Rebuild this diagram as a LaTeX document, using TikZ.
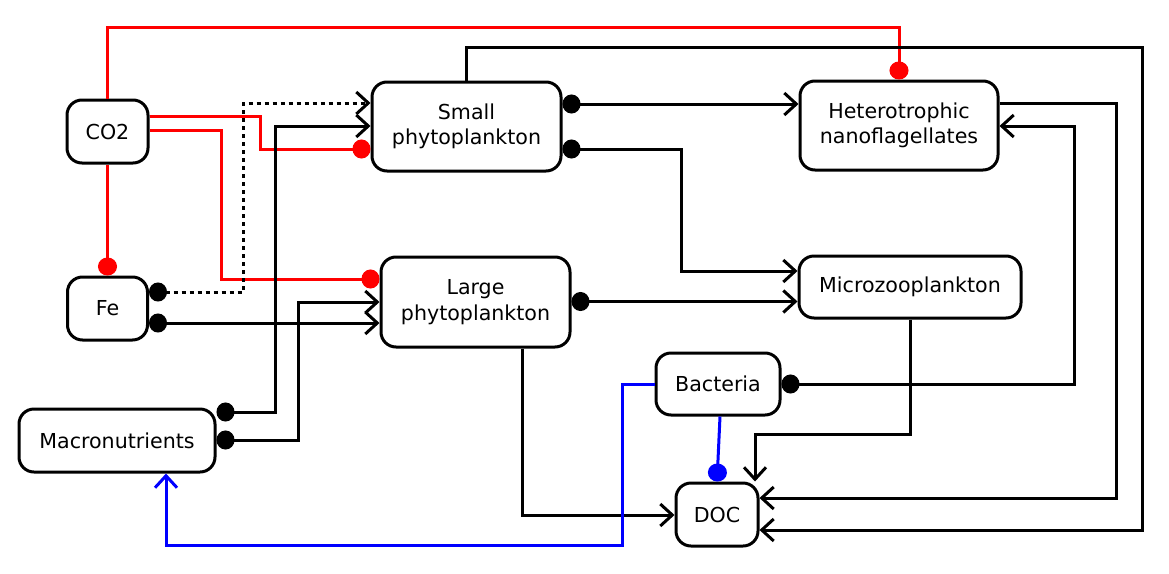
\documentclass[tikz,border=0pt]{standalone}
\usepackage{fontspec}
\setmainfont{DejaVu Sans}
\usetikzlibrary{arrows.meta}
\begin{document}
\begin{tikzpicture}[x=1pt,y=-1pt,
  box/.style={draw, line width=3pt, rounded corners=15pt, align=center, inner sep=0pt,
    font=\fontsize{20.6}{25.5}\selectfont},
  link/.style={line width=3pt, line join=miter},
  dotend/.style={-{Circle[length=18pt,width=19pt]}},
  dotarr/.style={{Circle[length=18pt,width=19pt]}-{Straight Barb[length=12pt,width=22pt]}},
  arr/.style={-{Straight Barb[length=12pt,width=22pt]}},
  dotted line/.style={dash pattern=on 4pt off 4pt}]
\useasboundingbox (0,0) rectangle (1169,573);
% nodes
\node[box, minimum width=81pt, minimum height=63pt] (co2) at (107.5,131.5) {CO2};
\node[box, minimum width=80pt, minimum height=63pt] (fe) at (107.5,308.5) {Fe};
\node[box, minimum width=196pt, minimum height=63pt] (mac) at (117,440.5) {Macronutrients};
\node[box, minimum width=189pt, minimum height=89pt] (sp) at (466.5,126.5) {Small\\phytoplankton};
\node[box, minimum width=189pt, minimum height=90pt] (lp) at (475.5,302) {Large\\phytoplankton};
\node[box, minimum width=198pt, minimum height=89pt] (hnf) at (899,125.5) {Heterotrophic\\nanoflagellates};
\node[box, minimum width=222pt, minimum height=62pt] (mz) at (910,287) {Microzooplankton};
\node[box, minimum width=124pt, minimum height=62pt] (bac) at (718,384) {Bacteria};
\node[box, minimum width=82pt, minimum height=63pt] (doc) at (717,514.5) {DOC};
% red links
\draw[link, red, dotend] (co2.north) -- (co2.north |- 0,27) -| (hnf.north);
\draw[link, red, dotend] (co2.east |- 0,116) -| (260,149) -- (sp.west |- 0,149);
\draw[link, red, dotend] (co2.east |- 0,130) -| (221,279) -- (lp.west |- 0,279);
\draw[link, red, dotend] (co2.south) -- (fe.north);
% black links
\draw[link, dotarr, dotted line] (fe.east |- 0,292) -| (243,103) -- (sp.west |- 0,103);
\draw[link, dotarr] (fe.east |- 0,323) -- (lp.west |- 0,323);
\draw[link, dotarr] (mac.east |- 0,412) -| (275,126) -- (sp.west |- 0,126);
\draw[link, dotarr] (mac.east |- 0,440) -| (298,302) -- (lp.west |- 0,302);
\draw[link, dotarr] (sp.east |- 0,104) -- (hnf.west |- 0,104);
\draw[link, dotarr] (sp.east |- 0,149) -| (681,271) -- (mz.west |- 0,271);
\draw[link, dotarr] (lp.east |- 0,301.5) -- (mz.west |- 0,301.5);
\draw[link, arr] (sp.north) |- (1142,47) -- (1142,530) -- (doc.east |- 0,530);
\draw[link, arr] (hnf.east |- 0,103) -| (1116,498) -- (doc.east |- 0,498);
\draw[link, dotarr] (bac.east) -| (1074,126) -- (hnf.east |- 0,126);
\draw[link, arr] (mz.south) -- (910,434) -| (doc.north -| 755,0);
\draw[link, arr] (lp.south -| 522,0) |- (doc.west |- 0,515);
% blue links
\draw[link, blue, dotend] (bac.south -| 720,0) -- (doc.north -| 717,0);
\draw[link, blue, arr] (bac.west) -| (622,545) -| (mac.south -| 166,0);
\end{tikzpicture}
\end{document}
